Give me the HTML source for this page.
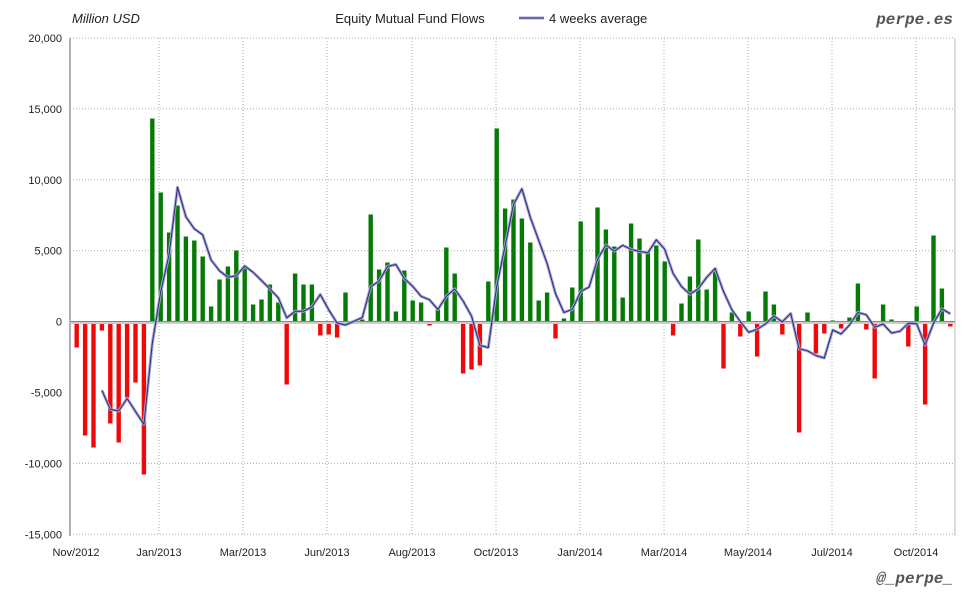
<!DOCTYPE html>
<html><head><meta charset="utf-8"><style>
body{margin:0;background:#fff;}
svg{display:block;font-family:"Liberation Sans",sans-serif;}
</style></head><body>
<svg id="s" width="980" height="600" xmlns="http://www.w3.org/2000/svg">
<rect width="980" height="600" fill="#fff"/>
<g id="grid"></g>
<line x1="70" y1="38" x2="70" y2="536" stroke="#999" stroke-width="1.5"/>
<line x1="955" y1="38" x2="955" y2="536" stroke="#bbb" stroke-width="1"/>
<g id="bars"></g>
<line x1="70" y1="323" x2="955" y2="323" stroke="#ccc" stroke-width="2"/>
<line x1="70" y1="321.5" x2="955" y2="321.5" stroke="#888" stroke-width="1"/>
<polyline id="avg" fill="none" stroke="#a5a5d5" stroke-width="3" stroke-linejoin="round"/>
<polyline id="avg2" fill="none" stroke="#2a2a78" stroke-width="1" stroke-linejoin="round"/>
<g id="lab" font-size="11" fill="#222"></g>
<text x="72" y="23" font-size="13" font-style="italic" fill="#222">Million USD</text>
<text x="410" y="23" font-size="13" text-anchor="middle" fill="#222">Equity Mutual Fund Flows</text>
<line x1="519" y1="18" x2="544" y2="18" stroke="#a5a5d5" stroke-width="3"/>
<line x1="519" y1="18" x2="544" y2="18" stroke="#2a2a78" stroke-width="1"/>
<text x="549" y="23" font-size="13" fill="#222">4 weeks average</text>
<text x="953" y="24" font-size="16" font-weight="bold" font-style="italic" text-anchor="end" fill="#555" font-family="Liberation Mono,monospace">perpe.es</text>
<text x="953" y="583" font-size="16" font-weight="bold" font-style="italic" text-anchor="end" fill="#555" font-family="Liberation Mono,monospace">@_perpe_</text>
</svg>
<script>
var h=[-26,-114,-126,-9,-102,-121,-76,-61,-153,203,129,89,116,85,81,65,15,42,55,71,54,17,22,37,19,-63,48,37,37,-14,-13,-16,29,1,2,107,52,59,
10,51,21,19,-4,12,74,48,-52,-48,-44,40,193,113,122,103,79,21,29,-17,3,34,100,0.5,114,92,75,24,98,83,70,76,60,-14,18,45,82,32,
53,-47,9,-15,10,-35,30,17,-13,-2,-111,9,-32,-12,1,-7,4,38,-8,-57,17,2,-1,-25,15,-83,86,33,-5];
var Z=321.5,NS="http://www.w3.org/2000/svg";
function el(t,a,p){var e=document.createElementNS(NS,t);for(var k in a)e.setAttribute(k,a[k]);document.getElementById(p).appendChild(e);return e;}
for(var i=0;i<8;i++){var y=38+i*70.9;if(i!=5)el("line",{x1:70,x2:955,y1:y,y2:y,stroke:"#aaa","stroke-dasharray":"1,2"},"grid");
 var t=el("text",{x:62,y:y+4,"text-anchor":"end"},"lab");t.textContent=(20000-i*5000).toLocaleString("en-US");}
var xs=[[76,"Nov/2012"],[159,"Jan/2013"],[243,"Mar/2013"],[327,"Jun/2013"],[412,"Aug/2013"],[496,"Oct/2013"],[580,"Jan/2014"],[664,"Mar/2014"],[748,"May/2014"],[832,"Jul/2014"],[916,"Oct/2014"]];
xs.forEach(function(d){if(d[0]>80)el("line",{x1:d[0],x2:d[0],y1:38,y2:536,stroke:"#aaa","stroke-dasharray":"1,2"},"grid");
 var t=el("text",{x:d[0],y:556,"text-anchor":"middle"},"lab");t.textContent=d[1];});
var pts=[];
h.forEach(function(v,i){var x=76.7+i*8.4;
 el("rect",{x:x-2.2,width:4.4,y:v>0?Z-v:Z,height:Math.abs(v),fill:v>0?"#067a06":"#ee0a0a"},"bars");
 if(i>=3){var a=(h[i]+h[i-1]+h[i-2]+h[i-3])/4;pts.push(x.toFixed(1)+","+(Z-a).toFixed(1));}});
document.getElementById("avg").setAttribute("points",pts.join(" "));
document.getElementById("avg2").setAttribute("points",pts.join(" "));
</script>
</body></html>
